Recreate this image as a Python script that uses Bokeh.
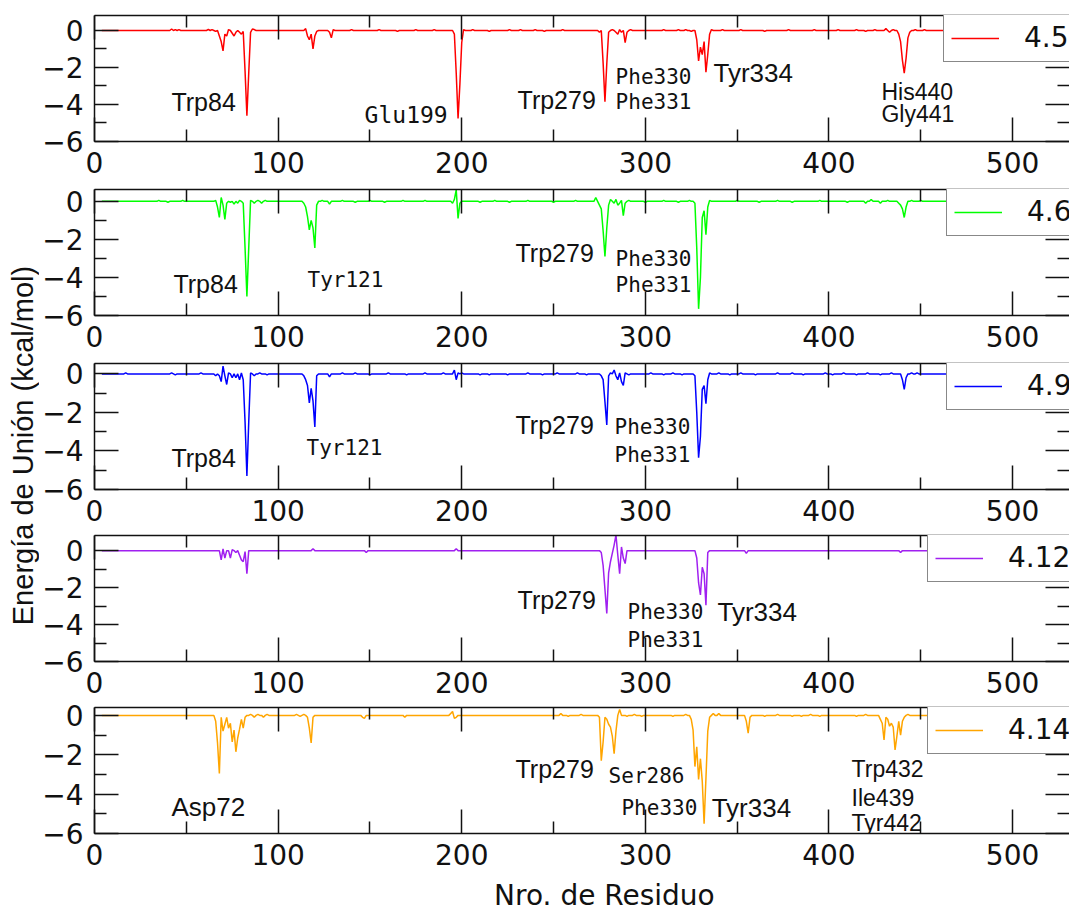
import math
from bokeh.plotting import figure
from bokeh.layouts import column, row
from bokeh.models import FixedTicker, LinearAxis, Range1d, Legend, LegendItem
from bokeh.core.properties import value
from bokeh.embed import file_html
from bokeh.resources import INLINE

# ---------------- data ----------------
residues = list(range(4, 536))

series_labels = ["4.5", "4.6", "4.9", "4.12", "4.14"]
series_colors = ["#ff0000", "#00ff00", "#0000ff", "#a020f0", "#ffa500"]

# per-residue binding energies (kcal/mol); residues not listed are 0
energy_4_5 = {
    42: 0.08, 44: 0.05, 46: 0.05, 62: 0.06, 64: 0.05, 66: -0.05,
    68: -0.3, 69: -0.6, 70: -1.1, 71: -0.2, 72: -0.3, 73: 0.05, 75: -0.15, 76: -0.3,
    77: -0.1, 79: -0.1, 80: -0.2, 81: -0.05, 82: -2.2, 83: -4.6, 84: -2.3, 85: -0.1,
    86: 0.08, 87: 0.05, 115: 0.1, 116: -0.3, 117: -0.5, 118: -0.2, 119: -1.0, 120: -0.3,
    121: -0.05, 128: -0.1, 129: -0.4, 130: 0.05, 140: 0.05, 155: 0.05, 165: -0.05,
    175: 0.05, 185: 0.05, 196: -0.2, 197: -2.3, 198: -4.75, 199: -2.9, 200: -0.65,
    201: 0.05, 206: 0.05, 215: -0.05, 226: 0.05, 232: 0.05, 240: 0.05, 245: -0.05,
    255: 0.05, 275: -0.1, 277: -1.75, 278: -3.85, 279: -1.8, 280: -0.1, 282: 0.05,
    284: -0.1, 285: -0.2, 286: 0.05, 287: -0.1, 289: -0.65, 290: -0.1, 292: 0.05,
    310: 0.05, 318: 0.05, 322: 0.05, 325: -0.05, 328: -0.5, 329: -1.65, 330: -0.9,
    331: -1.3, 332: -0.6, 333: -2.25, 334: -1.3, 335: -0.2, 336: 0.05, 342: 0.05,
    352: 0.05, 365: -0.05, 378: 0.05, 392: 0.05, 405: 0.05, 415: 0.05, 420: -0.05,
    425: 0.05, 431: 0.1, 433: -0.1, 435: 0.05, 438: -0.2, 439: -0.6, 440: -1.6,
    441: -2.3, 442: -1.5, 443: -0.4, 444: -0.1, 447: 0.05, 452: 0.05,
}
energy_4_6 = {
    35: 0.05, 40: -0.05, 48: 0.05, 66: 0.05, 67: -0.3, 68: -0.85, 69: 0.2, 70: -0.2,
    71: -0.95, 72: -0.1, 74: -0.05, 76: -0.15, 78: -0.1, 79: 0.05, 81: -0.1, 82: -2.45,
    83: -5.0, 84: -2.45, 85: 0.05, 87: -0.1, 89: 0.05, 91: -0.1, 93: 0.05, 114: -0.1,
    115: -0.3, 116: -0.8, 117: -1.5, 118: -1.0, 119: -1.4, 120: -2.45, 121: -0.2,
    124: 0.05, 128: -0.15, 135: 0.05, 142: -0.05, 150: 0.05, 158: -0.05, 168: 0.05,
    180: 0.05, 195: -0.1, 196: 0.1, 197: 0.6, 198: -0.9, 199: -0.1, 210: -0.05,
    218: 0.05, 226: -0.05, 236: 0.05, 250: -0.05, 262: 0.05, 273: 0.2, 275: -0.2,
    276: -0.4, 277: -1.55, 278: -2.9, 279: -1.4, 280: -0.2, 281: 0.1, 283: -0.1,
    284: 0.1, 285: -0.2, 286: -0.1, 287: 0.05, 288: -0.75, 289: -0.1, 291: 0.05,
    300: -0.05, 310: 0.05, 318: -0.05, 324: 0.05, 327: -0.1, 328: -2.45, 329: -5.65,
    330: -4.0, 331: -0.85, 332: -0.5, 333: -1.75, 334: -0.3, 335: 0.05, 350: 0.05,
    362: -0.05, 372: 0.05, 380: -0.05, 395: 0.05, 410: -0.05, 420: -0.1, 423: 0.1,
    428: -0.1, 432: 0.05, 438: -0.1, 439: -0.2, 440: -0.4, 441: -0.85, 442: -0.3,
    445: 0.05, 450: 0.05,
}
energy_4_9 = {
    17: 0.05, 42: 0.05, 44: -0.05, 58: 0.05, 66: -0.1, 68: -0.1, 69: -0.4, 70: 0.4,
    71: -0.1, 72: -0.55, 73: 0.05, 75: -0.2, 77: -0.2, 79: -0.3, 80: 0.05, 81: -0.3,
    82: -2.5, 83: -5.3, 84: -2.5, 85: 0.05, 87: -0.1, 90: 0.05, 94: -0.05, 114: -0.1,
    115: -0.3, 116: -0.6, 117: -1.5, 118: -0.75, 119: -1.4, 120: -2.75, 121: -0.1,
    128: -0.15, 135: 0.05, 142: 0.05, 150: -0.05, 160: 0.05, 170: -0.05, 180: 0.05,
    190: 0.05, 196: 0.2, 197: -0.3, 198: 0.05, 200: 0.05, 210: -0.05, 215: -0.05,
    225: -0.05, 236: 0.05, 244: -0.05, 252: 0.05, 263: 0.05, 268: -0.05, 276: -0.1,
    277: -0.3, 278: -1.45, 279: -2.65, 280: -0.1, 281: 0.05, 283: 0.2, 284: -0.1,
    285: -0.3, 286: 0.05, 287: -0.4, 288: -0.6, 289: 0.05, 291: -0.05, 303: 0.05,
    310: -0.05, 315: 0.05, 320: -0.05, 327: -0.1, 328: -2.0, 329: -4.35, 330: -3.25,
    331: -0.8, 332: -0.6, 333: -1.55, 334: -0.3, 335: 0.05, 340: 0.05, 346: -0.05,
    352: 0.05, 360: -0.05, 372: 0.05, 380: 0.05, 386: -0.05, 398: 0.05, 402: -0.05,
    408: 0.05, 415: -0.05, 421: 0.05, 428: -0.05, 434: 0.05, 440: -0.3, 441: -0.8,
    442: -0.2, 445: 0.05, 448: 0.05,
}
energy_4_12 = {
    69: -0.5, 70: 0.1, 71: -0.4, 74: -0.4, 75: 0.05, 77: -0.1, 79: -0.25, 80: -0.5,
    81: -0.6, 82: -0.05, 83: -1.25, 119: 0.1, 148: -0.1, 197: 0.1, 276: -0.1,
    277: -0.8, 278: -2.1, 279: -3.4, 280: -1.2, 281: -0.6, 282: -0.15, 283: 0.3,
    284: 0.85, 285: -0.25, 286: -1.25, 287: 0.2, 288: -0.4, 289: -0.7, 328: -0.4,
    329: -1.75, 330: -2.4, 331: -0.9, 332: -1.25, 333: -2.95, 334: -0.1, 355: -0.15,
    439: -0.1,
}
energy_4_14 = {
    66: -0.3, 67: -1.4, 68: -2.95, 69: -0.1, 70: -0.8, 71: -0.45, 72: -0.1, 73: -0.65,
    74: -0.4, 75: -1.35, 76: -0.75, 77: -1.85, 78: -1.15, 79: -0.7, 80: -0.2, 81: -0.65,
    82: -0.1, 85: 0.05, 87: -0.1, 89: 0.05, 92: -0.1, 94: 0.05, 110: 0.05, 112: -0.05,
    114: 0.05, 116: -0.1, 117: -0.65, 118: -1.4, 119: -0.1, 146: -0.1, 147: -0.15,
    169: -0.1, 194: 0.1, 195: 0.2, 196: -0.15, 197: -0.1, 254: 0.1, 258: -0.05,
    265: 0.05, 275: -0.1, 276: -2.3, 277: -1.35, 278: -0.1, 279: -0.2, 280: -0.45,
    281: -0.6, 282: -1.05, 283: -1.95, 284: -0.8, 286: 0.3, 290: -0.05, 294: 0.05,
    298: -0.05, 315: -0.05, 322: 0.05, 325: -0.2, 326: -0.75, 327: -2.6, 328: -1.6,
    329: -3.25, 330: -2.2, 331: -3.35, 332: -5.5, 333: -3.2, 334: -0.8, 335: -0.1,
    337: 0.1, 340: 0.1, 355: -0.3, 356: -0.9, 357: -0.1, 365: -0.05, 372: 0.05,
    380: -0.05, 385: -0.05, 390: 0.05, 395: -0.05, 415: -0.05, 420: 0.05, 428: -0.2,
    429: -0.4, 430: -1.25, 431: -0.1, 432: -0.2, 433: -0.55, 434: -0.4, 435: -0.6,
    436: -1.75, 437: -1.05, 438: -0.3, 439: -1.0, 440: -0.3, 441: -0.1, 443: 0.05,
}
series_energy = [energy_4_5, energy_4_6, energy_4_9, energy_4_12, energy_4_14]

x_ticks = [0, 100, 200, 300, 400, 500]
x_minor = [50, 150, 250, 350, 450, 550]
y_ticks = [-6, -4, -2, 0]
y_minor = [-5, -3, -1]

# residue annotations: (text, residue position, energy position, font, size)
SANS = "Liberation Sans"
MONO = "DejaVu Sans Mono"
annotations = [
    [("Trp84", 41.9, -3.89, SANS, 25), ("Glu199", 147.1, -4.59, MONO, 23),
     ("Trp279", 230.4, -3.78, SANS, 25), ("Phe330", 283.8, -2.49, MONO, 21),
     ("Phe331", 283.8, -3.89, MONO, 21), ("Tyr334", 337.1, -2.32, SANS, 26),
     ("His440", 428.6, -3.35, SANS, 23), ("Gly441", 428.6, -4.54, SANS, 23)],
    [("Trp84", 43.0, -4.32, SANS, 25), ("Tyr121", 116.0, -4.11, MONO, 21),
     ("Trp279", 229.3, -2.69, SANS, 25), ("Phe330", 283.8, -3.01, MONO, 21),
     ("Phe331", 283.8, -4.42, MONO, 21)],
    [("Trp84", 41.9, -4.34, SANS, 25), ("Tyr121", 115.5, -3.82, MONO, 21),
     ("Trp279", 229.3, -2.63, SANS, 25), ("Phe330", 283.2, -2.78, MONO, 21),
     ("Phe331", 283.2, -4.23, MONO, 21)],
    [("Trp279", 230.4, -2.69, SANS, 25), ("Phe330", 290.3, -3.34, MONO, 21),
     ("Phe331", 290.3, -4.86, MONO, 21), ("Tyr334", 339.3, -3.34, SANS, 26)],
    [("Asp72", 41.9, -4.63, SANS, 26), ("Trp279", 229.3, -2.70, SANS, 25),
     ("Ser286", 280.0, -3.10, MONO, 21), ("Phe330", 287.0, -4.68, MONO, 21),
     ("Tyr334", 336.1, -4.73, SANS, 26), ("Trp432", 412.3, -2.70, SANS, 23),
     ("Ile439", 412.3, -4.22, SANS, 23), ("Tyr442", 412.3, -5.49, SANS, 23)],
]

# ---------------- layout / styling ----------------
panel_ymax = [0.81, 0.62, 0.54, 0.82, 0.40]
border_top = [15, 5, 5, 3, 3]
border_bottom = [43, 43, 43, 43, 45]
legend_left = [849, 852, 852, 833, 833]   # px from frame left
FRAME_H = 126
LEGEND_H = 47
LABEL_W = 39
PANEL_W = 1069 - LABEL_W
XLAB_H = 27
X_END = 531
TICK_FONT = "DejaVu Sans"
BLACK = "#111111"


def style_axis(ax):
    ax.axis_line_color = BLACK
    ax.axis_line_width = 1.5
    ax.major_tick_line_color = BLACK
    ax.major_tick_line_width = 1.5
    ax.minor_tick_line_color = BLACK
    ax.minor_tick_line_width = 1.5
    ax.major_tick_in = 24
    ax.major_tick_out = 0
    ax.minor_tick_in = 12
    ax.minor_tick_out = 0
    ax.major_label_text_font = TICK_FONT
    ax.major_label_text_font_size = "28px"
    ax.major_label_text_color = BLACK
    ax.major_label_standoff = 11


figs = []
for i in range(5):
    h = border_top[i] + FRAME_H + border_bottom[i]
    p = figure(width=PANEL_W, height=h, x_range=Range1d(0, X_END),
               y_range=Range1d(-6, panel_ymax[i]), output_backend="svg",
               toolbar_location=None, min_border_left=53, min_border_right=0,
               min_border_top=border_top[i], min_border_bottom=border_bottom[i])
    p.xgrid.visible = False
    p.ygrid.visible = False
    p.outline_line_color = None
    p.background_fill_color = "white"
    p.border_fill_color = "white"

    ys = [series_energy[i].get(r, 0.0) for r in residues]
    r = p.line(residues, ys, line_color=series_colors[i], line_width=1.5)

    bottom_ax = p.below[0]
    left_ax = p.left[0]
    bottom_ax.ticker = FixedTicker(ticks=x_ticks, minor_ticks=x_minor)
    left_ax.ticker = FixedTicker(ticks=y_ticks, minor_ticks=y_minor)
    top_ax = LinearAxis(ticker=FixedTicker(ticks=x_ticks, minor_ticks=x_minor))
    right_ax = LinearAxis(ticker=FixedTicker(ticks=y_ticks, minor_ticks=y_minor))
    p.add_layout(top_ax, "above")
    p.add_layout(right_ax, "right")
    for ax in [bottom_ax, left_ax, top_ax, right_ax]:
        style_axis(ax)
    bottom_ax.major_label_standoff = 10
    for ax in [top_ax, right_ax]:
        ax.major_label_text_font_size = "1px"
        ax.major_label_text_color = None
        ax.major_label_standoff = 0
    right_ax.axis_line_color = None

    for (txt, ax_x, ax_y, fnt, sz) in annotations[i]:
        p.text(x=[ax_x], y=[ax_y], text=[txt], text_font=value(fnt),
               text_font_size=value(f"{sz}px"), text_color=BLACK,
               text_align="left", text_baseline="alphabetic")

    legend = Legend(items=[LegendItem(label=series_labels[i], renderers=[r])],
                    location=(legend_left[i], FRAME_H - LEGEND_H), margin=0,
                    padding=7, spacing=0, glyph_width=48, glyph_height=20,
                    label_height=20, label_standoff=25, label_text_font=TICK_FONT,
                    label_text_font_size="28px", label_text_color=BLACK,
                    border_line_color=BLACK, border_line_width=1.5,
                    background_fill_color="white", background_fill_alpha=1.0)
    p.add_layout(legend, "center")
    figs.append(p)

# x axis title in a strip under the last panel
xlab = figure(width=PANEL_W, height=XLAB_H, x_range=Range1d(0, 1), y_range=Range1d(0, 1),
              x_axis_type=None, y_axis_type=None, output_backend="svg",
              toolbar_location=None, min_border=0)
xlab.outline_line_color = None
xlab.xgrid.visible = False
xlab.ygrid.visible = False
xlab.text(x=[0.523], y=[1 - 17 / XLAB_H], text=["Nro. de Residuo"], text_font=value(TICK_FONT),
          text_font_size=value("28px"), text_color=BLACK, text_align="center",
          text_baseline="alphabetic")

# y axis title in a narrow strip on the left
total_h = sum(border_top) + 5 * FRAME_H + sum(border_bottom) + XLAB_H
lab = figure(width=LABEL_W, height=total_h, x_range=Range1d(0, 1), y_range=Range1d(0, 1),
             x_axis_type=None, y_axis_type=None, output_backend="svg",
             toolbar_location=None, min_border=0)
lab.outline_line_color = None
lab.xgrid.visible = False
lab.ygrid.visible = False
lab.text(x=[0.57], y=[1 - 445 / total_h], text=["Energía de Unión (kcal/mol)"],
         angle=math.pi / 2, text_font=value("Liberation Sans"), text_font_size=value("29px"),
         text_color=BLACK, text_align="center", text_baseline="middle")

layout = row(lab, column(*figs, xlab))
open("out.html", "w").write(file_html(layout, INLINE))
